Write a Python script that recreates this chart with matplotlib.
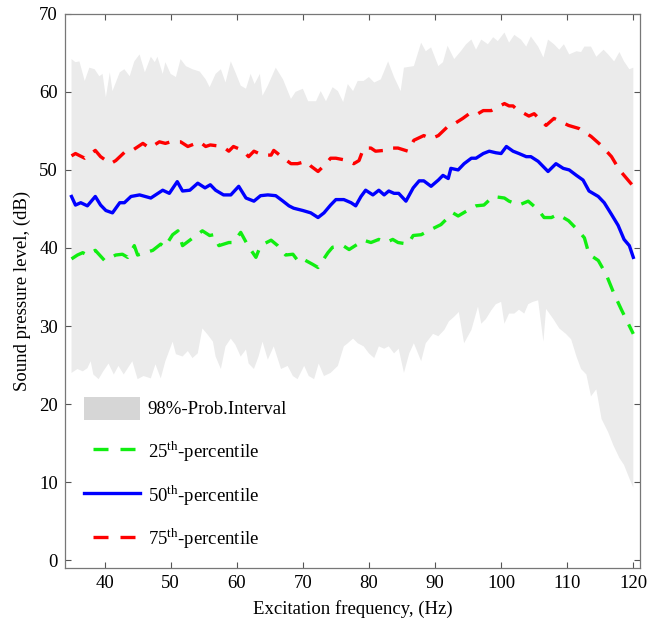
import matplotlib
matplotlib.use("Agg")
import matplotlib.pyplot as plt
from matplotlib.patches import Patch
from matplotlib.lines import Line2D

plt.rcParams['font.family'] = ['Liberation Serif', 'DejaVu Serif']
plt.rcParams['mathtext.fontset'] = 'custom'
plt.rcParams['mathtext.rm'] = 'Liberation Serif'

# 98% probability interval, upper edge
upper_f = [35, 35.6, 36.2, 37, 37.7, 38.5, 39.2, 39.7, 40.2, 40.8,
           41.2, 42.3, 43, 43.8, 44.5, 45.3, 46.1, 47, 47.6, 48,
           48.8, 49.2, 50, 50.8, 51.5, 52.3, 53.3, 54.4, 55.3, 55.9,
           56.8, 57.6, 58.3, 59.1, 59.8, 60.6, 61.4, 62.1, 62.7, 63.5,
           63.9, 64.7, 65.9, 67, 68.2, 68.9, 70, 70.8, 72, 72.7,
           73.5, 74.5, 75.3, 76.1, 76.8, 77.6, 78.3, 79.2, 80, 80.8,
           81.8, 82.9, 83.8, 84.8, 85.3, 86.8, 87.9, 88.6, 89.4, 90.5,
           91.2, 91.9, 92.9, 93.9, 94.7, 95.5, 96.2, 97, 98, 98.8,
           99.5, 100.5, 101.2, 102, 103, 103.8, 104.5, 105.6, 106.4, 107.1,
           108, 108.8, 109.5, 110.3, 111.4, 112.1, 112.6, 113.6, 114.4, 115.5,
           116.2, 117.1, 117.9, 118.6, 119.4, 120]
upper_db = [64.2, 63.8, 63.9, 61.4, 63.1, 62.9, 62.0, 62.3, 59.3, 62.5,
            60.1, 62.5, 62.9, 62.0, 63.9, 64.8, 62.5, 64.5, 63.8, 64.5,
            62.3, 63.8, 62.3, 61.9, 64.2, 63.3, 62.9, 62.6, 61.6, 60.6,
            62.3, 62.9, 61.2, 63.9, 62.5, 60.8, 60.4, 62.3, 61.0, 62.3,
            59.5, 60.8, 63.1, 61.6, 59.1, 60.0, 60.4, 58.8, 58.8, 60.1,
            58.8, 60.6, 60.1, 58.7, 61.0, 60.1, 61.4, 61.4, 61.9, 61.2,
            61.6, 63.9, 61.9, 60.1, 63.1, 63.3, 66.3, 65.2, 65.7, 63.3,
            63.8, 65.9, 64.2, 65.2, 66.1, 66.7, 65.4, 66.7, 66.1, 67.0,
            66.5, 67.6, 66.3, 67.3, 66.7, 65.8, 67.1, 65.8, 64.4, 66.7,
            66.1, 65.4, 66.1, 64.8, 65.2, 65.1, 65.8, 65.8, 64.5, 65.4,
            64.8, 63.9, 65.1, 63.9, 62.9, 63.1]

# 98% probability interval, lower edge
lower_f = [35, 35.9, 36.7, 37.4, 37.9, 38.3, 39.1, 39.8, 40.6, 41.4,
           42.1, 42.9, 44.2, 45, 45.9, 47, 47.7, 48.5, 49.2, 50.3,
           50.8, 51.8, 52.6, 53.3, 54.1, 54.8, 55.6, 56.4, 56.8, 57.6,
           58.3, 59.1, 59.8, 60.6, 61.4, 61.8, 62.6, 63.3, 63.9, 64.7,
           65.6, 66.7, 67.7, 68.5, 69.2, 70.2, 70.9, 71.7, 72.4, 73.2,
           74.2, 75.3, 76.2, 76.8, 77.6, 78.3, 79.2, 80, 80.8, 81.5,
           82.3, 83, 83.8, 84.5, 85.3, 86.1, 86.8, 87.9, 88.6, 89.7,
           90.5, 91.4, 92.1, 92.9, 93.6, 94.4, 95.5, 96.5, 97, 97.7,
           98.5, 99.2, 100, 100.5, 101.2, 102, 102.7, 103.5, 104.1, 104.8,
           105.6, 106.4, 106.8, 107.9, 108.8, 109.8, 110.6, 111.4, 112.1, 112.9,
           113.6, 114.4, 115.2, 116.2, 117, 117.9, 118.6, 119.4, 120]
lower_db = [24.0, 24.5, 24.2, 24.6, 25.5, 23.8, 23.2, 24.2, 25.2, 23.8,
            24.9, 23.8, 25.5, 23.2, 23.6, 23.3, 25.1, 23.3, 25.5, 28.0,
            26.4, 26.1, 26.8, 25.9, 26.5, 29.7, 28.9, 28.0, 26.1, 24.5,
            27.4, 28.4, 27.6, 26.1, 27.0, 25.2, 24.5, 26.1, 28.0, 25.7,
            27.4, 24.5, 24.9, 23.6, 23.2, 24.9, 23.6, 23.2, 25.2, 23.6,
            24.0, 24.9, 27.4, 27.8, 28.4, 27.8, 27.4, 26.5, 25.9, 27.4,
            27.1, 27.4, 26.5, 27.1, 24.0, 26.5, 27.8, 25.5, 27.8, 29.0,
            28.7, 29.5, 30.6, 31.2, 31.8, 27.8, 29.5, 32.5, 30.3, 30.9,
            32.0, 32.8, 33.1, 30.3, 31.6, 31.6, 32.1, 31.6, 32.8, 33.1,
            33.3, 28.0, 32.2, 30.9, 29.7, 29.0, 28.3, 26.1, 24.5, 23.8,
            21.0, 21.9, 18.1, 16.4, 14.7, 13.1, 12.2, 10.5, 9.3]

# 25th percentile
p25_f = [35, 35.9, 36.7, 37.4, 38.6, 40, 41.7, 42.7, 43.5, 44.5,
         45, 46.2, 47.3, 48.5, 49.1, 50.3, 51.1, 51.8, 52.9, 54.8,
         55.9, 56.5, 57.3, 58.8, 59.5, 60.6, 61.7, 62.9, 63.6, 65.2,
         66.2, 67.4, 68.5, 69.4, 70.2, 71.5, 72.3, 73.8, 74.5, 76.1,
         77, 78.3, 79.2, 80.3, 81.5, 82.6, 83.6, 84.4, 85.9, 86.7,
         87.9, 89, 90.9, 92.7, 93.5, 95.5, 96.2, 97.4, 98.8, 100.5,
         101.2, 102.7, 104.1, 105.6, 106.5, 107.6, 108.6, 110.2, 111.7, 112.6,
         113.3, 114.7, 115.9, 117.1, 118.2, 120]
p25_db = [38.6, 39.1, 39.4, 39.1, 39.7, 38.4, 39.1, 39.2, 38.8, 40.3,
          39.1, 39.4, 39.7, 40.5, 40.1, 41.7, 42.2, 40.3, 41.0, 42.2,
          41.6, 41.7, 40.3, 40.7, 40.7, 42.0, 40.3, 38.8, 40.3, 41.0,
          40.3, 39.1, 39.2, 38.2, 38.5, 37.9, 37.5, 39.4, 40.1, 40.3,
          39.8, 40.5, 41.0, 40.7, 41.1, 40.7, 41.1, 40.7, 40.5, 41.6,
          41.7, 42.2, 43.0, 44.5, 44.1, 45.1, 45.4, 45.5, 46.6, 46.4,
          46.0, 45.5, 46.0, 44.9, 43.9, 43.9, 44.3, 43.5, 42.2, 41.3,
          39.2, 38.4, 36.6, 34.1, 32.1, 29.0]

# 50th percentile
p50_f = [35, 35.6, 36.4, 37.4, 38.6, 39.4, 40.2, 41.2, 42.3, 43,
         44, 45.3, 47, 48.8, 49.8, 51, 51.8, 52.9, 54.1, 55.2,
         56, 56.8, 58, 59.1, 60.3, 61.4, 62.6, 63.6, 64.7, 65.9,
         67, 67.9, 68.6, 70, 71.2, 72.3, 73.2, 74.2, 75, 76.2,
         77.3, 78, 78.8, 79.5, 80.6, 81.5, 82.3, 83, 83.8, 84.5,
         85.6, 86.7, 87.6, 88.3, 89.4, 90.5, 91.2, 92, 92.4, 93.5,
         94.4, 95.5, 96.2, 97.3, 98.2, 99.2, 100, 100.8, 101.8, 102.7,
         103.8, 104.5, 105.6, 107.1, 108.3, 109.4, 110.3, 111.4, 112.4, 113.3,
         114.7, 115.6, 116.7, 117.7, 118.6, 119.4, 120]
p50_db = [46.6, 45.5, 45.8, 45.4, 46.6, 45.5, 44.8, 44.5, 45.8, 45.8,
          46.6, 46.8, 46.4, 47.4, 47.0, 48.5, 47.3, 47.4, 48.3, 47.7,
          48.1, 47.4, 46.8, 46.8, 47.9, 46.4, 46.0, 46.7, 46.8, 46.7,
          46.0, 45.4, 45.1, 44.8, 44.5, 43.9, 44.5, 45.5, 46.2, 46.2,
          45.8, 45.4, 46.6, 47.4, 46.8, 47.4, 46.8, 47.3, 47.0, 47.0,
          46.0, 47.7, 48.6, 48.6, 47.9, 48.7, 49.3, 48.9, 50.2, 50.0,
          50.8, 51.5, 51.5, 52.1, 52.4, 52.2, 52.1, 53.0, 52.4, 52.1,
          51.7, 51.7, 51.1, 49.8, 50.8, 50.2, 50.0, 49.3, 48.7, 47.3,
          46.6, 45.8, 44.3, 42.9, 41.1, 40.3, 38.8]

# 75th percentile
p75_f = [35, 35.6, 37, 38.6, 39.4, 40.9, 41.7, 43.2, 44.2, 45.8,
         46.8, 48.3, 49.2, 50, 51.5, 52.6, 54.4, 55.3, 56, 57.9,
         58.8, 59.5, 60.9, 61.8, 62.6, 63.9, 65.2, 65.6, 67.1, 68.2,
         69.2, 70.5, 71.2, 72.3, 73.5, 74.2, 75, 76.8, 77.7, 78.5,
         79.2, 80.3, 81, 82.3, 83.3, 84.4, 85.9, 86.8, 88.3, 89.4,
         90.5, 92.1, 92.9, 94.2, 95.5, 96.5, 97.3, 98.5, 100.5, 101.2,
         101.8, 102.3, 104.2, 105, 106.8, 108, 110.2, 111.8, 113.6, 115.2,
         116.7, 117.9, 119.2, 120]
p75_db = [51.8, 52.1, 51.5, 52.5, 51.7, 50.8, 51.2, 52.4, 52.5, 53.4,
          52.8, 53.6, 53.4, 53.6, 53.6, 53.0, 53.6, 53.0, 53.2, 53.0,
          52.4, 53.0, 52.5, 51.7, 52.4, 51.9, 51.9, 52.5, 51.5, 50.8,
          50.8, 51.1, 50.5, 49.8, 50.8, 51.5, 51.5, 51.2, 50.8, 51.2,
          52.8, 52.8, 52.4, 52.5, 52.8, 52.8, 52.4, 53.8, 54.4, 54.0,
          54.4, 55.7, 55.9, 56.6, 57.4, 57.2, 57.6, 57.6, 58.5, 58.2,
          58.2, 57.8, 56.9, 57.2, 55.7, 56.6, 55.7, 55.3, 54.3, 53.1,
          51.7, 50.0, 48.7, 47.9]

xticks = [40, 50, 60, 70, 80, 90, 100, 110, 120]
yticks = [0, 10, 20, 30, 40, 50, 60, 70]

fig = plt.figure(figsize=(6.49, 6.27), dpi=100)
ax = fig.add_axes([0.100, 0.094, 0.886, 0.884])

band_x = upper_f + lower_f[::-1]
band_y = upper_db + lower_db[::-1]
ax.fill(band_x, band_y, color='#ebebeb', lw=0, zorder=1)

lw = 2.4
dash = (4.5, 3.2)
ax.plot(p25_f, p25_db, color='#11ee11', lw=lw, dashes=dash, zorder=3)
ax.plot(p50_f, p50_db, color='#0000ff', lw=lw, zorder=3)
ax.plot(p75_f, p75_db, color='#ff0000', lw=lw, dashes=dash, zorder=3)

ax.set_xlim(34, 121)
ax.set_ylim(-1, 70)
ax.set_xticks(xticks)
ax.set_yticks(yticks)
ax.tick_params(direction='in', length=4, top=True, right=True,
               labelsize=13.5, color='#555555', pad=5)
for s in ax.spines.values():
    s.set_color('#777777')
    s.set_linewidth(0.9)

ax.set_xlabel('Excitation frequency, (Hz)', fontsize=13.5, labelpad=6)
ax.set_ylabel('Sound pressure level, (dB)', fontsize=13.5, labelpad=6)

# legend dashes start with a gap, two dashes per handle
leg_dash = (5.4, (4.5, 3.6))
handles = [
    Patch(facecolor='#d6d6d6', edgecolor='none'),
    Line2D([], [], color='#11ee11', lw=lw, linestyle=leg_dash),
    Line2D([], [], color='#0000ff', lw=lw),
    Line2D([], [], color='#ff0000', lw=lw, linestyle=leg_dash),
]
labels = ['98%-Prob.Interval',
          r'25$^{\mathrm{th}}$-percentile',
          r'50$^{\mathrm{th}}$-percentile',
          r'75$^{\mathrm{th}}$-percentile']
ax.legend(handles, labels, loc='lower left', bbox_to_anchor=(0.033, 0.03),
          frameon=False, fontsize=13.5, handlelength=3.0, handleheight=1.5,
          handletextpad=0.4, labelspacing=1.02, borderpad=0, borderaxespad=0)

fig.savefig('out.png', dpi=100)
